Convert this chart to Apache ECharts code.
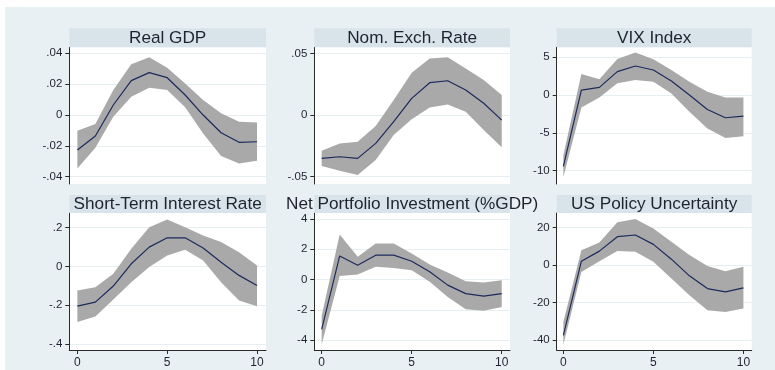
<!DOCTYPE html>
<html>
<head>
<meta charset="utf-8">
<title>Impulse responses</title>
<script src="https://cdn.jsdelivr.net/npm/echarts@6/dist/echarts.min.js"></script>
<style>
  html, body { margin: 0; padding: 0; background: #ffffff; }
  #chart { position: absolute; left: 5px; top: 7px; width: 770px; height: 363px; }
</style>
</head>
<body>
<div id="chart"></div>
<script>
// Horizon (periods after the shock)
const steps = [0, 1, 2, 3, 4, 5, 6, 7, 8, 9, 10];

// Real GDP
const gdpIrf   = [-0.0227, -0.0136, 0.0065, 0.0223, 0.0275, 0.0242, 0.0130, 0.0000, -0.0115, -0.0177, -0.0173];
const gdpUpper = [-0.0102, -0.0058, 0.0162, 0.0329, 0.0374, 0.0307, 0.0205, 0.0097, 0.0011, -0.0043, -0.0048];
const gdpLower = [-0.0346, -0.0212, -0.0011, 0.0119, 0.0177, 0.0162, 0.0050, -0.0119, -0.0266, -0.0314, -0.0296];
const gdpTicks = [-0.04, -0.02, 0, 0.02, 0.04];

// Nominal exchange rate
const fxIrf   = [-0.0351, -0.0338, -0.0351, -0.0230, -0.0054, 0.0135, 0.0262, 0.0278, 0.0203, 0.0095, -0.0041];
const fxUpper = [-0.0289, -0.0230, -0.0216, -0.0089, 0.0122, 0.0343, 0.0459, 0.0468, 0.0378, 0.0284, 0.0162];
const fxLower = [-0.0414, -0.0451, -0.0486, -0.0365, -0.0162, -0.0035, 0.0062, 0.0086, 0.0027, -0.0122, -0.0262];
const fxTicks = [-0.05, 0, 0.05];

// VIX index
const vixIrf   = [-9.42, 0.66, 1.02, 3.10, 3.85, 3.32, 1.86, 0.00, -1.90, -3.00, -2.79];
const vixUpper = [-7.96, 2.79, 2.08, 4.78, 5.62, 4.73, 3.32, 1.77, 0.44, -0.31, -0.31];
const vixLower = [-10.84, -1.64, -0.31, 1.55, 1.99, 1.77, 0.22, -2.21, -4.42, -5.66, -5.44];
const vixTicks = [-10, -5, 0, 5];

// Short-term interest rate
const rateIrf   = [-0.205, -0.184, -0.101, 0.014, 0.100, 0.148, 0.148, 0.095, 0.022, -0.046, -0.098];
const rateUpper = [-0.124, -0.107, -0.038, 0.091, 0.203, 0.242, 0.203, 0.160, 0.126, 0.074, 0.005];
const rateLower = [-0.287, -0.258, -0.170, -0.081, -0.003, 0.057, 0.086, 0.031, -0.081, -0.175, -0.205];
const rateTicks = [-0.4, -0.2, 0, 0.2];

// Net portfolio investment (% of GDP)
const npiIrf   = [-3.30, 1.56, 0.95, 1.61, 1.61, 1.21, 0.51, -0.37, -0.93, -1.10, -0.93];
const npiUpper = [-2.40, 2.97, 1.50, 2.38, 2.38, 1.72, 0.99, 0.46, -0.11, -0.20, -0.04];
const npiLower = [-4.30, 0.24, 0.33, 0.84, 0.77, 0.62, -0.15, -1.15, -1.96, -2.07, -1.81];
const npiTicks = [-4, -2, 0, 2, 4];

// US policy uncertainty
const epuIrf   = [-37.5, 2.1, 7.5, 15.2, 16.1, 11.1, 3.2, -5.7, -12.5, -14.3, -12.1];
const epuUpper = [-30.4, 8.0, 12.1, 22.9, 24.6, 19.6, 12.5, 5.4, -0.4, -3.2, -0.9];
const epuLower = [-42.5, -3.6, 2.1, 7.5, 7.1, 1.8, -7.1, -16.1, -24.1, -25.0, -23.2];
const epuTicks = [-40, -20, 0, 20];

// Horizon tick labels
const stepTicks = [0, 5, 10];

const titles = ['Real GDP', 'Nom. Exch. Rate', 'VIX Index',
                'Short-Term Interest Rate', 'Net Portfolio Investment (%GDP)', 'US Policy Uncertainty'];

const panels = [
  { title: titles[0], irf: gdpIrf,  up: gdpUpper,  lo: gdpLower,  ticks: gdpTicks,  yMin: -0.0447, yMax: 0.0439 },
  { title: titles[1], irf: fxIrf,   up: fxUpper,   lo: fxLower,   ticks: fxTicks,   yMin: -0.0559, yMax: 0.0549 },
  { title: titles[2], irf: vixIrf,  up: vixUpper,  lo: vixLower,  ticks: vixTicks,  yMin: -11.76,  yMax: 6.32 },
  { title: titles[3], irf: rateIrf, up: rateUpper, lo: rateLower, ticks: rateTicks, yMin: -0.431,  yMax: 0.276 },
  { title: titles[4], irf: npiIrf,  up: npiUpper,  lo: npiLower,  ticks: npiTicks,  yMin: -4.66,   yMax: 4.40 },
  { title: titles[5], irf: epuIrf,  up: epuUpper,  lo: epuLower,  ticks: epuTicks,  yMin: -45.3,   yMax: 27.85 }
];

// Layout of the 3 x 2 panel grid (chart-local pixels)
const offX = 5, offY = 7;
const cols = [
  { left: 69.3, right: 266.0, xMin: -0.45, xMax: 10.5 },
  { left: 314.3, right: 510.0, xMin: -0.41, xMax: 10.46 },
  { left: 556.7, right: 751.7, xMin: -0.37, xMax: 10.46 }
];
const rows = [
  { stripTop: 28.3, top: 47.3, bottom: 184.0 },
  { stripTop: 195.0, top: 213.0, bottom: 350.0 }
];

const FONT = '"Liberation Sans", Arial, Helvetica, sans-serif';
const TEXT = '#1f2230';

// Stata-like tick labels: drop the leading zero (".04", "-.2")
function fmt(v) {
  let s = String(Math.round(v * 10000) / 10000);
  return s.replace(/^(-?)0\./, '$1.');
}

const grid = [], xAxis = [], yAxis = [], series = [], title = [], graphic = [];

panels.forEach((p, i) => {
  const c = cols[i % 3], r = rows[Math.floor(i / 3)];
  const isBottom = i >= 3;
  const gl = c.left - offX, gw = c.right - c.left;
  const gt = r.top - offY, gh = r.bottom - r.top;

  grid.push({
    left: gl, top: gt, width: gw, height: gh,
    show: true, backgroundColor: '#ffffff', borderWidth: 0
  });

  // Title strip above each plot
  graphic.push({
    type: 'rect', z: 1,
    shape: { x: gl, y: r.stripTop - offY, width: gw, height: r.top - r.stripTop },
    style: { fill: '#d8e4ea' }
  });
  title.push({
    text: p.title,
    left: gl + gw / 2, top: r.stripTop - offY + (r.top - r.stripTop) / 2 + 0.5,
    textAlign: 'center', textVerticalAlign: 'middle', padding: 0,
    textStyle: { fontFamily: FONT, fontSize: 17.2, fontWeight: 'normal', color: TEXT }
  });

  xAxis.push({
    gridIndex: i, type: 'value', min: c.xMin, max: c.xMax,
    axisLine: { show: isBottom, onZero: false, lineStyle: { color: '#2a2a2a', width: 1 } },
    axisTick: { show: isBottom, length: 4, customValues: stepTicks, lineStyle: { color: '#2a2a2a' } },
    axisLabel: { show: isBottom, customValues: stepTicks, margin: 7,
                 fontFamily: FONT, fontSize: 12, color: TEXT },
    splitLine: { show: false }
  });

  yAxis.push({
    gridIndex: i, type: 'value', min: p.yMin, max: p.yMax,
    axisLine: { show: true, onZero: false, lineStyle: { color: '#2a2a2a', width: 1 } },
    axisTick: { show: true, length: 4, customValues: p.ticks, lineStyle: { color: '#2a2a2a' } },
    axisLabel: { customValues: p.ticks, margin: 7, formatter: fmt,
                 fontFamily: FONT, fontSize: 11.5, color: TEXT },
    splitLine: { show: true, lineStyle: { color: '#e7eef2', width: 1 } }
  });

  // Confidence band between lower and upper bounds
  series.push({
    type: 'custom', xAxisIndex: i, yAxisIndex: i, silent: true, z: 2,
    data: [[0, 0]],
    renderItem: (params, api) => {
      const pts = [];
      for (let k = 0; k < steps.length; k++) pts.push(api.coord([steps[k], p.up[k]]));
      for (let k = steps.length - 1; k >= 0; k--) pts.push(api.coord([steps[k], p.lo[k]]));
      return { type: 'polygon', shape: { points: pts }, style: { fill: '#a9a9a9', stroke: null } };
    }
  });

  // Point estimate of the impulse response
  series.push({
    type: 'line', xAxisIndex: i, yAxisIndex: i, z: 3,
    data: steps.map((s, k) => [s, p.irf[k]]),
    showSymbol: false, symbol: 'none', animation: false, silent: true,
    lineStyle: { color: '#1d2a5c', width: 1.2 }
  });
});

const chart = echarts.init(document.getElementById('chart'), null, { renderer: 'canvas' });
chart.setOption({
  backgroundColor: '#e9f0f3',
  animation: false,
  title, grid, xAxis, yAxis, series,
  graphic: { elements: graphic }
});
</script>
</body>
</html>
